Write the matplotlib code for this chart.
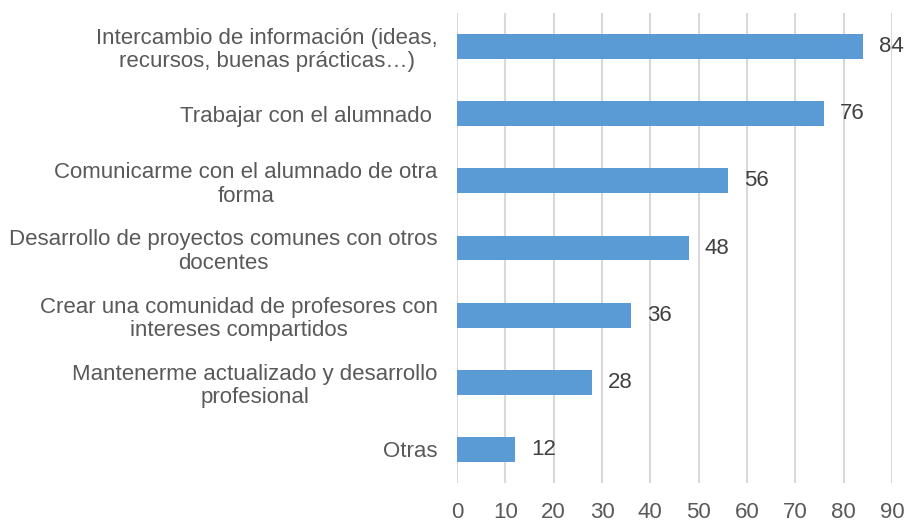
import matplotlib
matplotlib.use("Agg")
import matplotlib.pyplot as plt

categories = [
    "Intercambio de información (ideas,\nrecursos, buenas prácticas…)",
    "Trabajar con el alumnado ",
    "Comunicarme con el alumnado de otra\nforma",
    "Desarrollo de proyectos comunes con otros\ndocentes",
    "Crear una comunidad de profesores con\nintereses compartidos",
    "Mantenerme actualizado y desarrollo\nprofesional",
    "Otras",
]
values = [84, 76, 56, 48, 36, 28, 12]
xticks = [0, 10, 20, 30, 40, 50, 60, 70, 80, 90]

plt.rcParams['font.family'] = ['Liberation Sans', 'DejaVu Sans']

fig = plt.figure(figsize=(9.05, 5.24), dpi=100)
ax = fig.add_axes([457/905, 1-483/524, (892-457)/905, (483-13)/524])

ypos = list(range(len(categories)))
bars = ax.barh(ypos, values, height=0.37, color="#5B9BD5", zorder=3)
ax.set_ylim(len(categories)-0.5, -0.5)
ax.set_xlim(0, 90)
ax.set_xticks(xticks)
ax.set_xticklabels([str(t) for t in xticks])
ax.set_yticks(ypos)
ax.set_yticklabels(categories)
for lab in ax.get_yticklabels():
    lab.set_multialignment('center')
    lab.set_linespacing(1.15)

ax.grid(axis='x', color='#d9d9d9', linewidth=1.5, zorder=0)
for s in ax.spines.values():
    s.set_visible(False)
ax.tick_params(axis='y', length=0, labelsize=16, colors='#595959', pad=14)
ax.tick_params(axis='x', length=0, labelsize=16, colors='#595959', pad=14)

for b, v in zip(bars, values):
    ax.annotate(str(v), (b.get_width(), b.get_y() + b.get_height()/2),
                xytext=(11.5, 0), textcoords='offset points',
                ha='left', va='center', fontsize=16, color='#404040')

fig.savefig("out.png", dpi=100)
